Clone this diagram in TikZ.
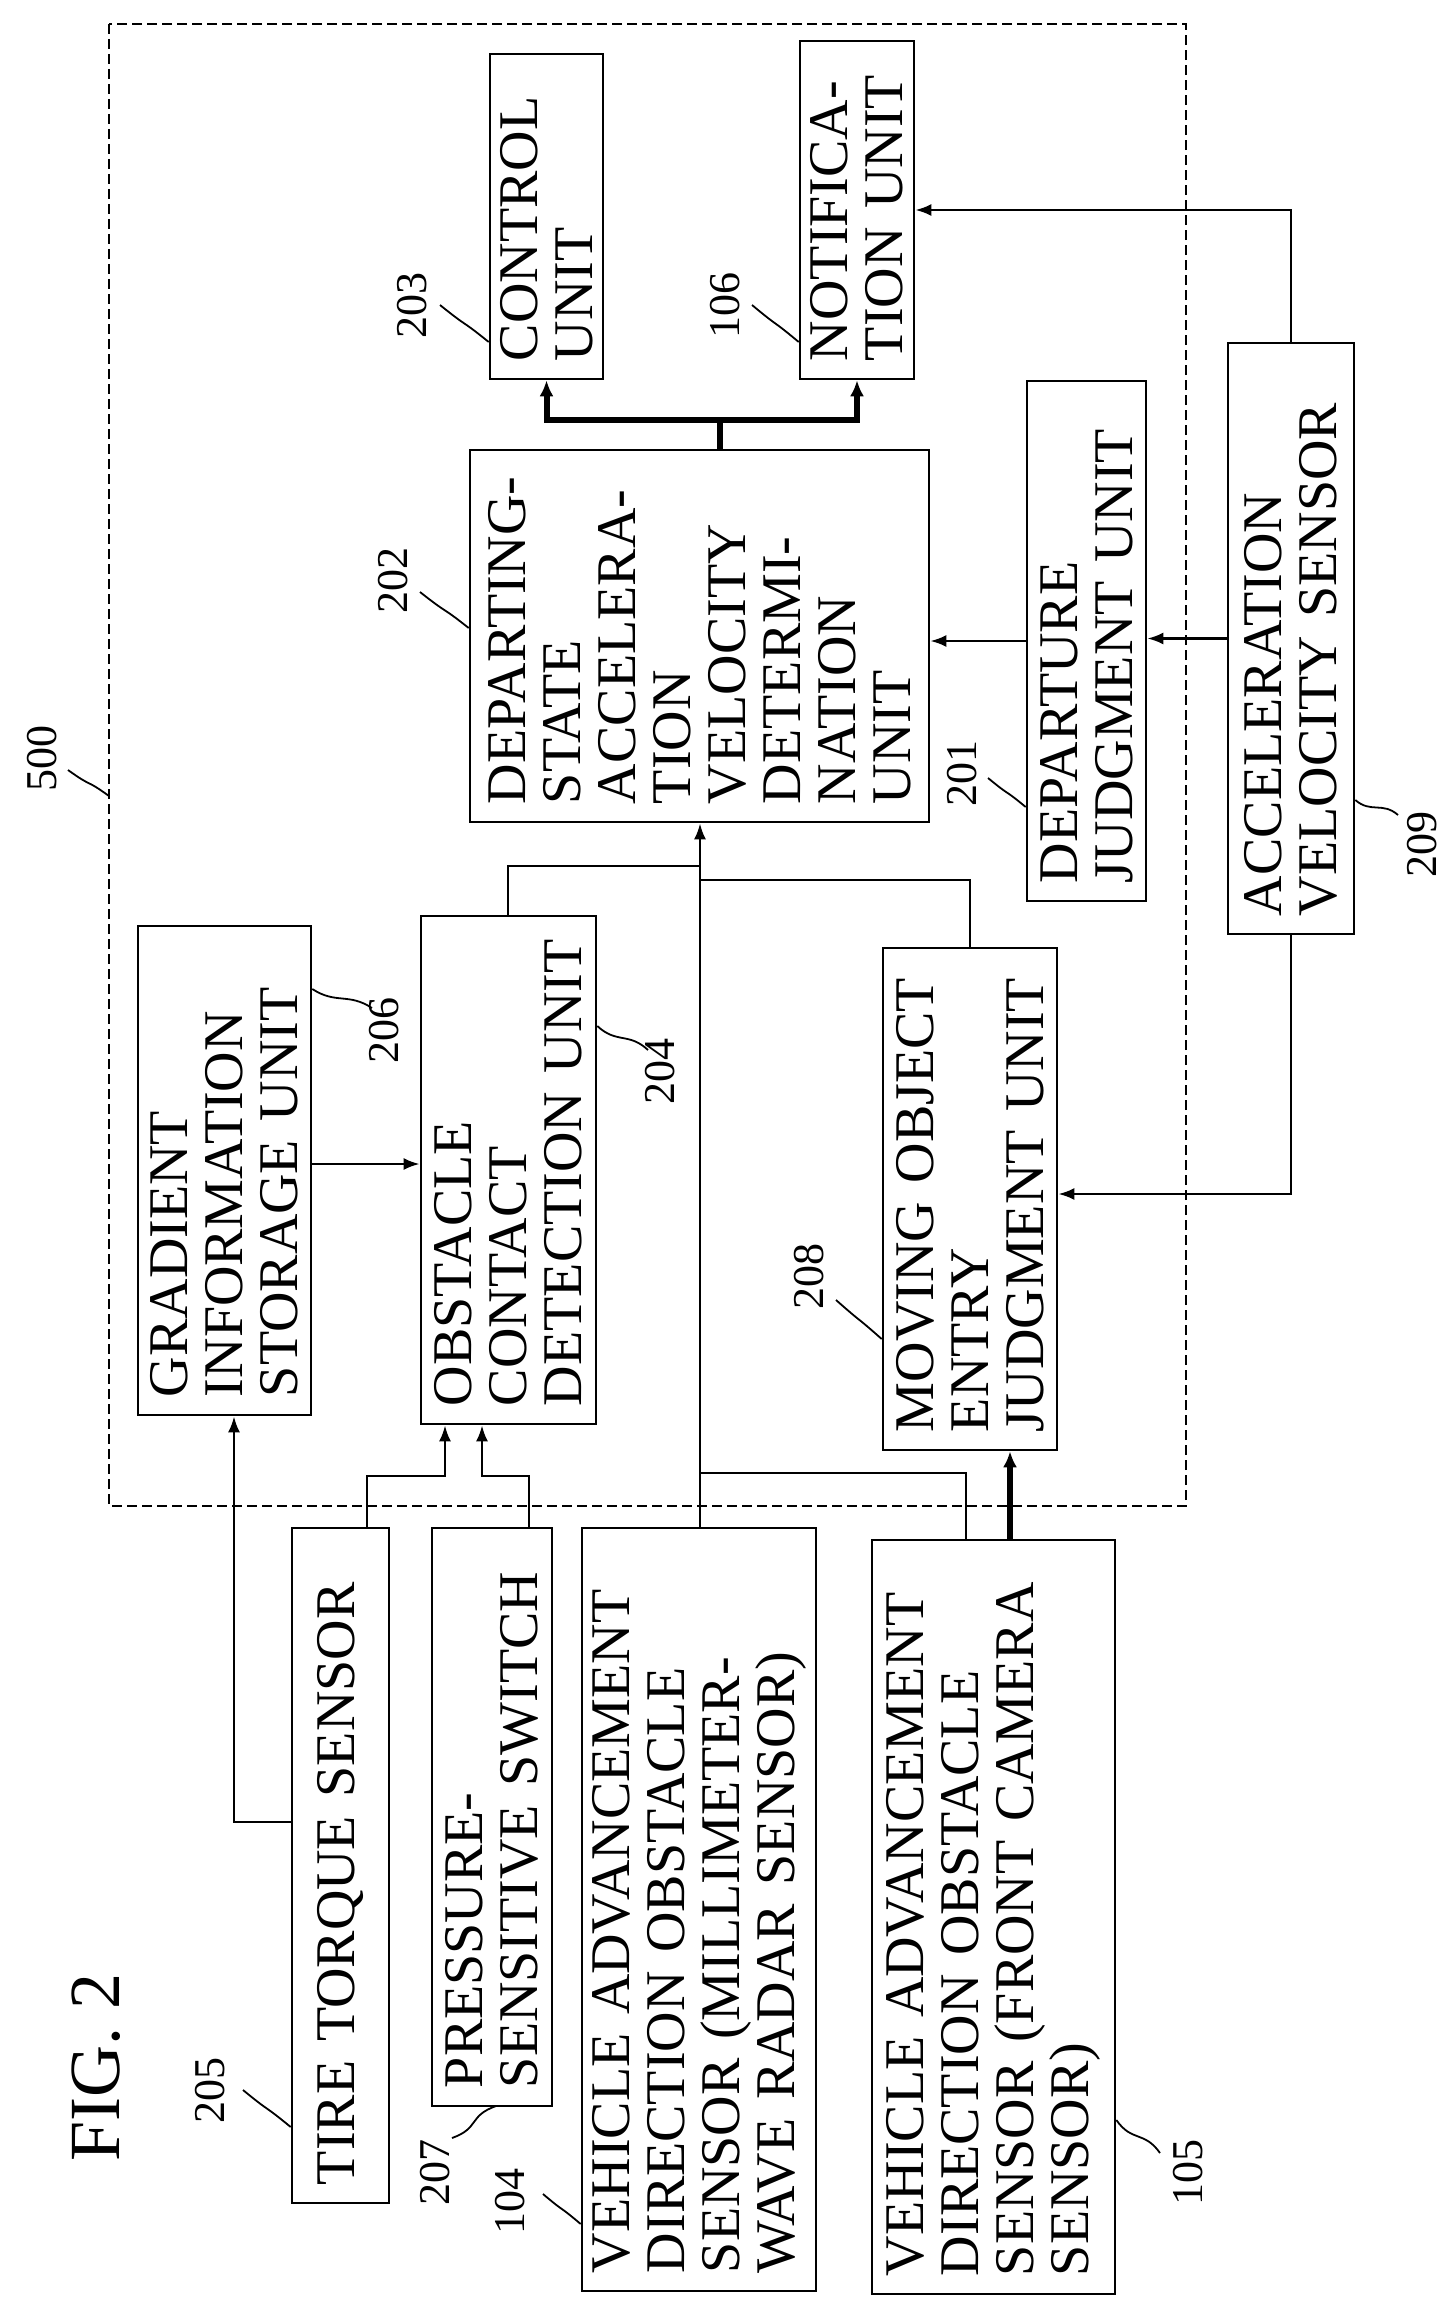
\documentclass[tikz,border=0pt]{standalone}
\usepackage{fontspec}
\setmainfont{Liberation Serif}
\usetikzlibrary{arrows.meta,calc}
\newcommand\bx[6]{%
  \pgfmathsetmacro\bxw{(#4-#2)*0.5}%
  \pgfmathsetmacro\bxh{(#5-#3)*0.5-18}%
  \node[bx, minimum height=\bxw pt, text width=\bxh pt] (#1) at ({(#2+#4)/2},{(#3+#5)/2}) {#6};}
\newcommand\lab[7]{%
  \node[num] (#1) at (#2,#3) {#4};
  \draw[thin1] (#5) .. controls ($(#5)!.5!(#6)+(#7)$) and ($(#5)!.5!(#6)-(#7)$) .. (#6);}
\begin{document}
\begin{tikzpicture}[x=0.5pt,y=-0.5pt,
  bx/.style={draw, line width=1.3pt, rotate=90, align=left, inner xsep=9pt, inner ysep=0pt,
    font=\fontsize{28}{27.5}\selectfont},
  num/.style={rotate=90, font=\fontsize{22}{22}\selectfont, inner sep=0pt},
  thin1/.style={line width=0.9pt},
  ln/.style={line width=1.3pt},
  ar/.style={line width=1.3pt, -{Latex[length=8pt,width=6pt]}},
  tk/.style={line width=3pt, -{Latex[length=8pt,width=7pt]}}]
\useasboundingbox (0,0) rectangle (1451,2306);
\draw[line width=1.2pt, dash pattern=on 5pt off 2.5pt] (109,24) rectangle (1186,1506);
\bx{ctrl}{490}{54}{603}{379}{CONTROL\\UNIT}
\bx{notif}{800}{41}{914}{379}{NOTIFICA-\\TION UNIT}
\bx{dep}{470}{450}{929}{822}{DEPARTING-\\STATE\\ACCELERA-\\TION\\VELOCITY\\DETERMI-\\NATION\\UNIT}
\bx{dj}{1027}{381}{1146}{901}{DEPARTURE\\JUDGMENT UNIT}
\bx{acc}{1228}{343}{1354}{934}{ACCELERATION\\VELOCITY SENSOR}
\bx{grad}{138}{926}{311}{1415}{GRADIENT\\INFORMATION\\STORAGE UNIT}
\bx{obst}{421}{916}{596}{1424}{OBSTACLE\\CONTACT\\DETECTION UNIT}
\bx{mov}{883}{948}{1057}{1450}{MOVING OBJECT\\ENTRY\\JUDGMENT UNIT}
\bx{tire}{292}{1528}{389}{2203}{TIRE TORQUE SENSOR}
\bx{press}{432}{1528}{552}{2106}{PRESSURE-\\SENSITIVE SWITCH}
\bx{mmw}{582}{1528}{816}{2291}{VEHICLE ADVANCEMENT\\DIRECTION OBSTACLE\\SENSOR (MILLIMETER-\\WAVE RADAR SENSOR)}
\bx{cam}{872}{1540}{1115}{2294}{VEHICLE ADVANCEMENT\\DIRECTION OBSTACLE\\SENSOR (FRONT CAMERA\\SENSOR)}
% connectors
\coordinate (sp) at (720,420);
\draw[line width=3pt] (dep.east -| sp) -- (sp);
\draw[tk] (sp) -| (ctrl.west);
\draw[tk] (sp) -| (notif.west);
\draw[ar] (acc.east -| 1291,0) |- (notif.south |- 0,210);
\draw[ar] (acc.north) -- (acc.north -| dj.south);
\draw[ar] (dj.north) -- (dj.north -| dep.south);
\draw[ar] (acc.west -| 1291,0) |- (mov.south |- 0,1194);
\draw[ar] (grad.south |- 0,1164) -- (obst.north |- 0,1164);
\draw[ar] (mmw.east -| 700,0) -- (dep.west -| 700,0);
\draw[ln] (obst.east -| 508,0) |- (700,866);
\draw[ln] (mov.east -| 970,0) |- (700,880);
\draw[ln] (cam.east -| 966,0) |- (700,1473);
\draw[tk] (cam.east -| 1010,0) -- (mov.west -| 1010,0);
\draw[ar] (tire.north |- 0,1822) -| (grad.west -| 234,0);
\draw[ar] (tire.east -| 367,0) |- (445,1476) -- (obst.west -| 445,0);
\draw[ar] (press.east -| 529,0) |- (482,1476) -- (obst.west -| 482,0);
% labels
\lab{l203}{412}{305}{203}{440,305}{ctrl.north |- 0,342}{6,6}
\lab{l106}{725}{305}{106}{752,305}{notif.north |- 0,342}{6,6}
\lab{l202}{393}{580}{202}{420,592}{dep.north |- 0,628}{6,6}
\lab{l500}{42}{758}{500}{68,770}{109,796}{6,6}
\lab{l201}{962}{773}{201}{988,778}{dj.north |- 0,807}{6,6}
\lab{l209}{1422}{844}{209}{1398,815}{acc.south |- 0,800}{6,-6}
\lab{l206}{384}{1030}{206}{372,1008}{grad.south |- 0,989}{6,-6}
\lab{l204}{660}{1071}{204}{648,1050}{obst.south |- 0,1026}{6,-6}
\lab{l208}{809}{1276}{208}{836,1300}{mov.north |- 0,1339}{6,6}
\lab{l205}{210}{2090}{205}{243,2090}{tire.north |- 0,2127}{6,6}
\lab{l207}{435}{2172}{207}{452,2138}{496,2106}{6,6}
\lab{l104}{510}{2201}{104}{543,2194}{mmw.north |- 0,2224}{6,6}
\lab{l105}{1188}{2172}{105}{1160,2153}{cam.south |- 0,2120}{6,-6}
\node[rotate=90, font=\fontsize{36}{36}\selectfont] (fig) at (96,2067) {FIG. 2};
\end{tikzpicture}
\end{document}
